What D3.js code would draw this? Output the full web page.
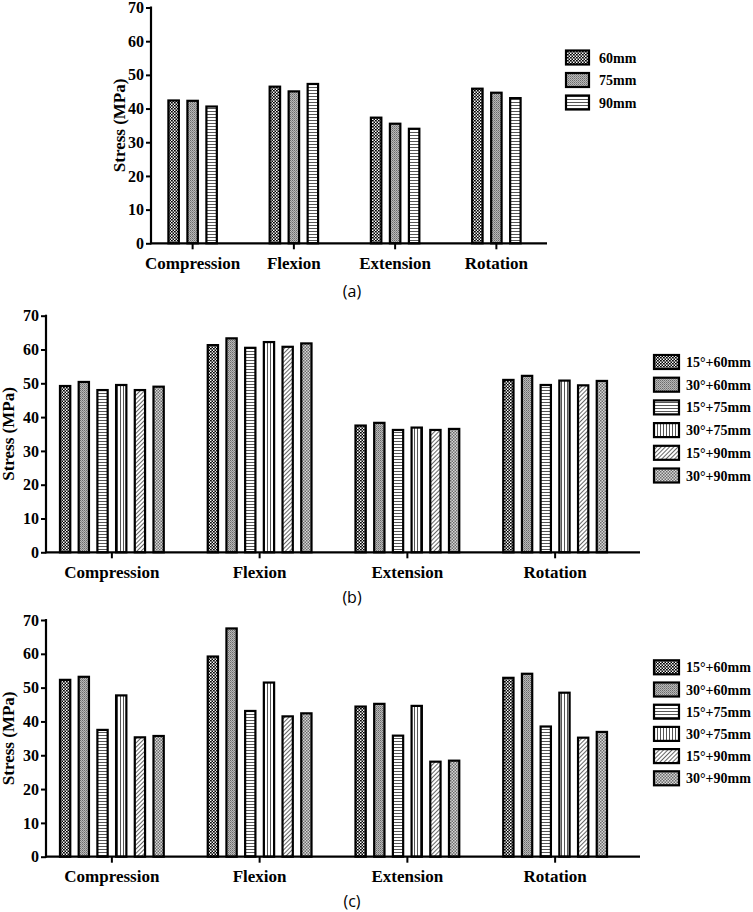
<!DOCTYPE html>
<html>
<head>
<meta charset="utf-8">
<script src="https://cdn.jsdelivr.net/npm/d3@7/dist/d3.min.js"></script>
<style>
  html, body { margin: 0; padding: 0; background: #fff; }
  svg { display: block; }
</style>
</head>
<body>
<svg id="chart" width="753" height="912"></svg>
<script>
// ---------- data ----------
const categories = ["Compression", "Flexion", "Extension", "Rotation"];
const yTicks = [0, 10, 20, 30, 40, 50, 60, 70];

// panel (a)
const seriesA = ["60mm", "75mm", "90mm"];
const a60 = [42.4, 46.5, 37.3, 45.9];
const a75 = [42.3, 45.1, 35.5, 44.7];
const a90 = [40.6, 47.3, 34.0, 43.1];

// panels (b) and (c)
const seriesBC = ["15°+60mm", "30°+60mm", "15°+75mm", "30°+75mm", "15°+90mm", "30°+90mm"];
const b15_60 = [49.2, 61.3, 37.5, 51.0];
const b30_60 = [50.4, 63.3, 38.3, 52.2];
const b15_75 = [48.0, 60.5, 36.2, 49.5];
const b30_75 = [49.5, 62.2, 36.9, 50.8];
const b15_90 = [48.0, 60.8, 36.2, 49.4];
const b30_90 = [49.0, 61.8, 36.5, 50.7];

const c15_60 = [52.3, 59.2, 44.4, 52.9];
const c30_60 = [53.2, 67.5, 45.2, 54.1];
const c15_75 = [37.5, 43.1, 35.8, 38.5];
const c30_75 = [47.7, 51.5, 44.6, 48.5];
const c15_90 = [35.3, 41.5, 28.1, 35.2];
const c30_90 = [35.7, 42.4, 28.4, 36.9];

const yLabel = "Stress (MPa)";

// ---------- patterns ----------
const svg = d3.select("#chart");
const defs = svg.append("defs");

function pat(id, w, h, build) {
  const p = defs.append("pattern").attr("id", id)
    .attr("patternUnits", "userSpaceOnUse").attr("width", w).attr("height", h);
  build(p);
}
// dark checker
pat("pCheckDark", 3, 3, p => {
  p.append("rect").attr("width", 3).attr("height", 3).attr("fill", "#fff");
  p.append("rect").attr("width", 1.5).attr("height", 1.5).attr("fill", "#000");
  p.append("rect").attr("x", 1.5).attr("y", 1.5).attr("width", 1.5).attr("height", 1.5).attr("fill", "#000");
  p.append("rect").attr("x", 1.5).attr("y", 0).attr("width", 0.6).attr("height", 1.5).attr("fill", "#000");
});
// gray speckle
pat("pGray", 2, 2, p => {
  p.append("rect").attr("width", 2).attr("height", 2).attr("fill", "#b8b8b8");
  p.append("rect").attr("width", 1).attr("height", 1).attr("fill", "#6a6a6a");
  p.append("rect").attr("x", 1).attr("y", 1).attr("width", 1).attr("height", 1).attr("fill", "#8a8a8a");
});
// horizontal lines
pat("pHoriz", 4, 3, p => {
  p.append("rect").attr("width", 4).attr("height", 3).attr("fill", "#fff");
  p.append("rect").attr("y", 0).attr("width", 4).attr("height", 1).attr("fill", "#555");
});
// vertical lines
pat("pVert", 3, 4, p => {
  p.append("rect").attr("width", 3).attr("height", 4).attr("fill", "#fff");
  p.append("rect").attr("x", 0).attr("width", 1).attr("height", 4).attr("fill", "#555");
});
// diagonal lines
pat("pDiag", 3, 3, p => {
  p.attr("patternTransform", "rotate(45)");
  p.append("rect").attr("width", 3).attr("height", 3).attr("fill", "#fff");
  p.append("rect").attr("x", 0).attr("width", 1).attr("height", 3).attr("fill", "#666");
});
// light gray checker
pat("pCheckGray", 3, 3, p => {
  p.append("rect").attr("width", 3).attr("height", 3).attr("fill", "#d8d8d8");
  p.append("rect").attr("width", 1.5).attr("height", 1.5).attr("fill", "#6a6a6a");
  p.append("rect").attr("x", 1.5).attr("y", 1.5).attr("width", 1.5).attr("height", 1.5).attr("fill", "#6a6a6a");
});

const fillsA = ["url(#pCheckDark)", "url(#pGray)", "url(#pHoriz)"];
const fillsBC = ["url(#pCheckDark)", "url(#pGray)", "url(#pHoriz)", "url(#pVert)", "url(#pDiag)", "url(#pCheckGray)"];

const serif = '"Liberation Serif", "Times New Roman", serif';

// ---------- panel builder ----------
function panel(cfg) {
  const g = svg.append("g");
  const y = d3.scaleLinear().domain([0, 70]).range([cfg.y0, cfg.yTop]);
  const x0 = d3.scaleBand().domain(categories).range(cfg.bandRange);
  const half = cfg.series.length * cfg.stride / 2;
  const x1 = d3.scaleBand().domain(cfg.series).range([-half, half]).paddingInner(0.45).paddingOuter(0.225);

  const data = [];
  cfg.series.forEach((s, si) => {
    cfg.values[si].forEach((v, ci) => data.push({ s, si, c: categories[ci], v }));
  });

  g.selectAll("rect.bar").data(data).join("rect")
    .attr("class", "bar")
    .attr("x", d => x0(d.c) + x0.bandwidth() / 2 + x1(d.s))
    .attr("width", x1.bandwidth())
    .attr("y", d => y(d.v))
    .attr("height", d => y(0) - y(d.v))
    .attr("fill", d => cfg.fills[d.si])
    .attr("stroke", "#000").attr("stroke-width", 2.2);

  // y axis
  const ya = g.append("g").attr("transform", `translate(${cfg.axisX},0)`)
    .call(d3.axisLeft(y).tickValues(yTicks).tickFormat(d3.format("d")).tickSize(5).tickPadding(2));
  ya.select(".domain").remove();
  ya.selectAll(".tick line").attr("stroke", "#000").attr("stroke-width", 2);
  ya.selectAll(".tick text")
    .style("font-family", serif).style("font-weight", "bold").style("font-size", "16px").style("fill", "#000");
  g.append("line").attr("x1", cfg.axisX).attr("x2", cfg.axisX)
    .attr("y1", y(70) - 1).attr("y2", y(0) + 1).attr("stroke", "#000").attr("stroke-width", 2.2);

  // x axis
  const xa = g.append("g").attr("transform", `translate(0,${cfg.y0})`)
    .call(d3.axisBottom(x0).tickSize(6).tickFormat(""));
  xa.select(".domain").remove();
  xa.selectAll(".tick line").attr("stroke", "#000").attr("stroke-width", 2);
  g.append("line").attr("x1", cfg.axisX).attr("x2", cfg.xEnd)
    .attr("y1", cfg.y0).attr("y2", cfg.y0).attr("stroke", "#000").attr("stroke-width", 2.2);

  g.selectAll("text.cat").data(categories).join("text")
    .attr("class", "cat")
    .attr("x", d => x0(d) + x0.bandwidth() / 2)
    .attr("y", cfg.catY)
    .attr("text-anchor", "middle")
    .style("font-family", serif).style("font-weight", "bold").style("font-size", "17px")
    .text(d => d);

  // y label
  g.append("text")
    .attr("transform", `translate(${cfg.labelX},${(cfg.y0 + cfg.yTop) / 2}) rotate(-90)`)
    .attr("text-anchor", "middle").attr("dy", "0.35em")
    .style("font-family", serif).style("font-weight", "bold").style("font-size", "17px")
    .text(yLabel);

  // legend
  const lg = g.append("g");
  cfg.series.forEach((s, i) => {
    const ty = cfg.legTop + i * cfg.legStep;
    lg.append("rect").attr("x", cfg.legX + 1).attr("y", ty + 1)
      .attr("width", cfg.legW - 2).attr("height", cfg.legH - 2)
      .attr("fill", cfg.fills[i]).attr("stroke", "#000").attr("stroke-width", 2.2);
    lg.append("text").attr("x", cfg.legTextX).attr("y", ty + cfg.legH / 2)
      .attr("dy", "0.36em")
      .style("font-family", serif).style("font-weight", "bold").style("font-size", "14px")
      .text(s);
  });

  // caption
  g.append("text").attr("x", cfg.capX).attr("y", cfg.capY)
    .attr("text-anchor", "middle")
    .style("font-family", '"Open Sans", "Noto Sans", sans-serif').style("font-size", "16px")
    .text(cfg.caption);
}

panel({
  series: seriesA, values: [a60, a75, a90], fills: fillsA,
  y0: 243.3, yTop: 7.5, axisX: 151, xEnd: 547, bandRange: [142, 547], stride: 19,
  catY: 268.5, labelX: 119,
  legX: 565, legW: 25, legH: 16, legTop: 49.5, legStep: 22.5, legTextX: 599,
  capX: 352, capY: 297, caption: "(a)"
});

panel({
  series: seriesBC, values: [b15_60, b30_60, b15_75, b30_75, b15_90, b30_90], fills: fillsBC,
  y0: 552.3, yTop: 315.7, axisX: 46, xEnd: 640, bandRange: [38, 629], stride: 18.7,
  catY: 577.5, labelX: 8.5,
  legX: 653, legW: 27, legH: 16, legTop: 354, legStep: 22.7, legTextX: 686,
  capX: 352, capY: 603, caption: "(b)"
});

panel({
  series: seriesBC, values: [c15_60, c30_60, c15_75, c30_75, c15_90, c30_90], fills: fillsBC,
  y0: 856.7, yTop: 620, axisX: 46, xEnd: 640, bandRange: [38, 629], stride: 18.7,
  catY: 881.5, labelX: 8.5,
  legX: 653, legW: 27, legH: 16, legTop: 659.3, legStep: 22.2, legTextX: 686,
  capX: 352, capY: 907, caption: "(c)"
});
</script>
</body>
</html>
